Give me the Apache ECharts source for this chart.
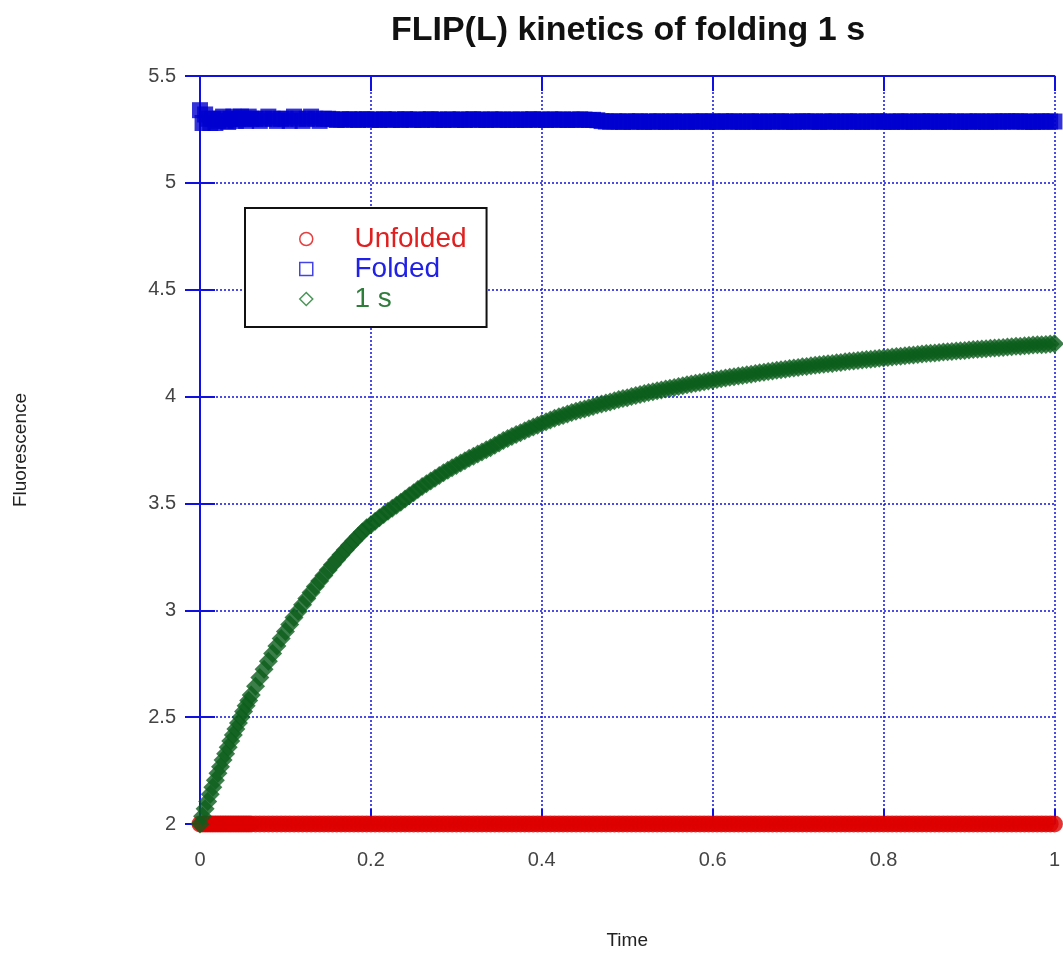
<!DOCTYPE html>
<html>
<head>
<meta charset="utf-8">
<title>FLIP(L) kinetics of folding 1 s</title>
<script src="https://cdn.jsdelivr.net/npm/echarts@6/dist/echarts.min.js"></script>
<style>
  html, body { margin: 0; padding: 0; background: #fff; }
  #main { width: 1063px; height: 955px; }
</style>
</head>
<body>
<div id="main"></div>
<script>
// sample times (s), denser near the start like the recording
var times = [
  0, 0.003, 0.006, 0.009, 0.012, 0.015, 0.018, 0.021, 0.024, 0.027, 0.03,
  0.033, 0.036, 0.039, 0.042, 0.045, 0.048, 0.051, 0.054, 0.057, 0.06,
  0.065, 0.07, 0.075, 0.08, 0.085, 0.09, 0.095, 0.1, 0.105, 0.11, 0.115, 0.12,
  0.125, 0.13, 0.135, 0.14, 0.145, 0.15, 0.155, 0.16, 0.165, 0.17, 0.175, 0.18,
  0.185, 0.19, 0.195, 0.2, 0.205, 0.21, 0.215, 0.22, 0.225, 0.23, 0.235, 0.24,
  0.245, 0.25, 0.255, 0.26, 0.265, 0.27, 0.275, 0.28, 0.285, 0.29, 0.295, 0.3,
  0.305, 0.31, 0.315, 0.32, 0.325, 0.33, 0.335, 0.34, 0.345, 0.35,
  0.355, 0.36, 0.365, 0.37, 0.375, 0.38, 0.385, 0.39, 0.395, 0.4,
  0.405, 0.41, 0.415, 0.42, 0.425, 0.43, 0.435, 0.44, 0.445, 0.45,
  0.455, 0.46, 0.465, 0.47, 0.475, 0.48, 0.485, 0.49, 0.495, 0.5,
  0.505, 0.51, 0.515, 0.52, 0.525, 0.53, 0.535, 0.54, 0.545, 0.55,
  0.555, 0.56, 0.565, 0.57, 0.575, 0.58, 0.585, 0.59, 0.595, 0.6,
  0.605, 0.61, 0.615, 0.62, 0.625, 0.63, 0.635, 0.64, 0.645, 0.65,
  0.655, 0.66, 0.665, 0.67, 0.675, 0.68, 0.685, 0.69, 0.695, 0.7,
  0.705, 0.71, 0.715, 0.72, 0.725, 0.73, 0.735, 0.74, 0.745, 0.75,
  0.755, 0.76, 0.765, 0.77, 0.775, 0.78, 0.785, 0.79, 0.795, 0.8,
  0.805, 0.81, 0.815, 0.82, 0.825, 0.83, 0.835, 0.84, 0.845, 0.85,
  0.855, 0.86, 0.865, 0.87, 0.875, 0.88, 0.885, 0.89, 0.895, 0.9,
  0.905, 0.91, 0.915, 0.92, 0.925, 0.93, 0.935, 0.94, 0.945, 0.95,
  0.955, 0.96, 0.965, 0.97, 0.975, 0.98, 0.985, 0.99, 0.995, 1
];

var unfolded = [
  2, 2, 2, 2, 2, 2, 2, 2, 2, 2, 2, 2, 2, 2, 2, 2, 2, 2, 2, 2,
  2, 2, 2, 2, 2, 2, 2, 2, 2, 2, 2, 2, 2, 2, 2, 2, 2, 2, 2, 2,
  2, 2, 2, 2, 2, 2, 2, 2, 2, 2, 2, 2, 2, 2, 2, 2, 2, 2, 2, 2,
  2, 2, 2, 2, 2, 2, 2, 2, 2, 2, 2, 2, 2, 2, 2, 2, 2, 2, 2, 2,
  2, 2, 2, 2, 2, 2, 2, 2, 2, 2, 2, 2, 2, 2, 2, 2, 2, 2, 2, 2,
  2, 2, 2, 2, 2, 2, 2, 2, 2, 2, 2, 2, 2, 2, 2, 2, 2, 2, 2, 2,
  2, 2, 2, 2, 2, 2, 2, 2, 2, 2, 2, 2, 2, 2, 2, 2, 2, 2, 2, 2,
  2, 2, 2, 2, 2, 2, 2, 2, 2, 2, 2, 2, 2, 2, 2, 2, 2, 2, 2, 2,
  2, 2, 2, 2, 2, 2, 2, 2, 2, 2, 2, 2, 2, 2, 2, 2, 2, 2, 2, 2,
  2, 2, 2, 2, 2, 2, 2, 2, 2, 2, 2, 2, 2, 2, 2, 2, 2, 2, 2, 2,
  2, 2, 2, 2, 2, 2, 2, 2, 2
];

var folded = [
  5.34, 5.28, 5.32, 5.30, 5.28, 5.30, 5.28, 5.29, 5.30, 5.31, 5.29,
  5.285, 5.30, 5.31, 5.29, 5.30, 5.31, 5.30, 5.29, 5.31, 5.30,
  5.30, 5.29, 5.30, 5.31, 5.30, 5.29, 5.30, 5.30, 5.29, 5.31, 5.30, 5.29,
  5.30, 5.31, 5.30, 5.29, 5.30, 5.30,
  5.298, 5.294, 5.297, 5.295, 5.298, 5.296, 5.294, 5.297, 5.298, 5.295,
  5.296, 5.294, 5.298, 5.296, 5.295, 5.297, 5.294, 5.298, 5.296, 5.295,
  5.297, 5.294, 5.296, 5.298, 5.295, 5.296, 5.294, 5.297, 5.296, 5.295,
  5.297, 5.294, 5.296, 5.298, 5.295, 5.296, 5.294, 5.297, 5.296, 5.295,
  5.297, 5.294, 5.296, 5.295, 5.297, 5.294, 5.296, 5.298, 5.295, 5.296,
  5.294, 5.297, 5.296, 5.295, 5.297, 5.294, 5.296, 5.295, 5.297, 5.296,
  5.294, 5.295, 5.293, 5.289, 5.287, 5.286, 5.288, 5.287, 5.285, 5.288,
  5.286, 5.287, 5.288, 5.285, 5.287, 5.286, 5.288, 5.287, 5.285, 5.287,
  5.288, 5.286, 5.287, 5.285, 5.288, 5.286, 5.287, 5.288, 5.286, 5.287,
  5.285, 5.288, 5.287, 5.286, 5.288, 5.287, 5.285, 5.287, 5.288, 5.286,
  5.287, 5.285, 5.288, 5.286, 5.287, 5.288, 5.286, 5.287, 5.285, 5.287,
  5.288, 5.287, 5.286, 5.288, 5.285, 5.287, 5.286, 5.288, 5.287, 5.285,
  5.287, 5.288, 5.286, 5.287, 5.285, 5.288, 5.286, 5.287, 5.288, 5.286,
  5.287, 5.285, 5.287, 5.288, 5.286, 5.287, 5.285, 5.288, 5.287, 5.286,
  5.288, 5.287, 5.285, 5.287, 5.288, 5.286, 5.287, 5.285, 5.288, 5.286,
  5.286, 5.288, 5.287, 5.285, 5.287, 5.288, 5.286, 5.287, 5.288, 5.287,
  5.287, 5.288, 5.286, 5.287, 5.285, 5.287, 5.288, 5.286, 5.287, 5.287
];

var oneSec = [
  2.000, 2.036, 2.071, 2.105, 2.139, 2.172, 2.205, 2.237, 2.268, 2.299, 2.329,
  2.359, 2.388, 2.417, 2.445, 2.473, 2.500, 2.526, 2.553, 2.578, 2.604,
  2.645, 2.685, 2.724, 2.761, 2.798, 2.833, 2.868, 2.901, 2.934, 2.966, 2.996, 3.026,
  3.055, 3.083, 3.111, 3.137, 3.163, 3.188, 3.213, 3.237, 3.260, 3.282, 3.304, 3.325,
  3.346, 3.366, 3.386, 3.400, 3.417, 3.433, 3.448, 3.463, 3.478, 3.492, 3.506, 3.521,
  3.536, 3.550, 3.565, 3.579, 3.592, 3.605, 3.618, 3.631, 3.643, 3.655, 3.667, 3.678,
  3.689, 3.700, 3.711, 3.721, 3.731, 3.741, 3.751, 3.760, 3.772, 3.783,
  3.794, 3.804, 3.813, 3.822, 3.831, 3.840, 3.849, 3.858, 3.866, 3.874,
  3.882, 3.890, 3.898, 3.905, 3.912, 3.918, 3.925, 3.931, 3.937, 3.942,
  3.948, 3.954, 3.960, 3.965, 3.970, 3.975, 3.981, 3.986, 3.991, 3.995,
  4.000, 4.005, 4.010, 4.014, 4.019, 4.023, 4.027, 4.031, 4.035, 4.039,
  4.043, 4.047, 4.051, 4.055, 4.059, 4.062, 4.066, 4.069, 4.073, 4.076,
  4.080, 4.083, 4.087, 4.090, 4.093, 4.096, 4.099, 4.102, 4.105, 4.108,
  4.111, 4.114, 4.117, 4.120, 4.123, 4.125, 4.128, 4.131, 4.134, 4.136,
  4.139, 4.141, 4.144, 4.146, 4.149, 4.151, 4.153, 4.155, 4.158, 4.160,
  4.163, 4.165, 4.167, 4.169, 4.171, 4.173, 4.175, 4.177, 4.179, 4.181,
  4.183, 4.185, 4.187, 4.189, 4.191, 4.193, 4.195, 4.197, 4.199, 4.201,
  4.203, 4.204, 4.206, 4.208, 4.210, 4.211, 4.213, 4.214, 4.216, 4.218,
  4.220, 4.221, 4.223, 4.224, 4.226, 4.227, 4.229, 4.230, 4.232, 4.233,
  4.235, 4.236, 4.238, 4.239, 4.241, 4.242, 4.243, 4.244, 4.246, 4.247
];

var xTicks = [0, 1, 0.2];      // min, max, interval
var yTicks = [2, 5.5, 0.5];

var AXIS_BLUE = "#1010e0";
var FONT = "'Liberation Sans', Arial, sans-serif";

function pairs(ys) {
  return times.map(function (t, i) { return [t, ys[i]]; });
}

function frameAxis(base, extra) {
  var o = {
    type: "value",
    min: base[0],
    max: base[1],
    interval: base[2],
    axisLine: { show: true, lineStyle: { color: AXIS_BLUE, width: 2 } },
    axisTick: { show: true, inside: true, length: 15, lineStyle: { color: AXIS_BLUE, width: 2 } },
    axisLabel: { show: false },
    splitLine: { show: false }
  };
  for (var k in extra) o[k] = extra[k];
  return o;
}

var myChart = echarts.init(document.getElementById("main"));

myChart.setOption({
  backgroundColor: "#fff",
  animation: false,
  title: {
    text: "FLIP(L) kinetics of folding 1 s",
    left: 628,
    textAlign: "center",
    top: 14,
    padding: 0,
    textStyle: { fontFamily: FONT, fontSize: 34, fontWeight: "bold", color: "#111" }
  },
  grid: { left: 200, width: 857, top: 76, height: 753, containLabel: false },
  xAxis: [
    frameAxis(xTicks, {
      position: "bottom",
      name: "Time",
      nameLocation: "middle",
      nameGap: 107,
      nameTextStyle: { fontFamily: FONT, fontSize: 19, color: "#222" },
      axisLabel: { show: true, margin: 26, fontFamily: FONT, fontSize: 20, color: "#444" },
      splitLine: { show: true, lineStyle: { color: AXIS_BLUE, width: 1.5, type: [2, 2] } }
    }),
    frameAxis(xTicks, { position: "top" })
  ],
  yAxis: [
    frameAxis(yTicks, {
      position: "left",
      name: "Fluorescence",
      nameLocation: "middle",
      nameGap: 170,
      nameTextStyle: { fontFamily: FONT, fontSize: 19, color: "#222" },
      axisLabel: { show: true, margin: 24, fontFamily: FONT, fontSize: 20, color: "#444" },
      splitLine: { show: true, lineStyle: { color: AXIS_BLUE, width: 1.5, type: [2, 2] } }
    }),
    frameAxis(yTicks, { position: "right" })
  ],
  legend: {
    orient: "vertical",
    left: 245,
    top: 208,
    padding: [17, 20, 14, 54],
    itemGap: 2,
    itemWidth: 13,
    itemHeight: 13,
    borderColor: "#111",
    borderWidth: 2,
    backgroundColor: "#fff",
    textStyle: { fontFamily: FONT, fontSize: 28 },
    formatter: function (name) { return "    \u2009" + name; },
    data: [
      { name: "Unfolded", icon: "circle",
        itemStyle: { color: "rgba(0,0,0,0)", borderColor: "#e01010", borderWidth: 1.5 },
        textStyle: { color: "#e02020" } },
      { name: "Folded", icon: "rect",
        itemStyle: { color: "rgba(0,0,0,0)", borderColor: "#1515e0", borderWidth: 1.5 },
        textStyle: { color: "#2020e6" } },
      { name: "1 s", icon: "diamond",
        itemStyle: { color: "rgba(0,0,0,0)", borderColor: "#1e7a2e", borderWidth: 1.5 },
        textStyle: { color: "#2e7d3a" } }
    ]
  },
  series: [
    {
      name: "Unfolded",
      type: "scatter",
      symbol: "circle",
      symbolSize: 17,
      clip: false,
      itemStyle: { color: "#dd0000" },
      data: pairs(unfolded)
    },
    {
      name: "Folded",
      type: "scatter",
      symbol: "rect",
      symbolSize: 16,
      clip: false,
      itemStyle: { color: "#0000d0" },
      data: pairs(folded)
    },
    {
      name: "1 s",
      type: "scatter",
      symbol: "diamond",
      symbolSize: 19,
      clip: false,
      itemStyle: { color: "#0b5e1c" },
      data: pairs(oneSec)
    }
  ]
});
</script>
</body>
</html>
